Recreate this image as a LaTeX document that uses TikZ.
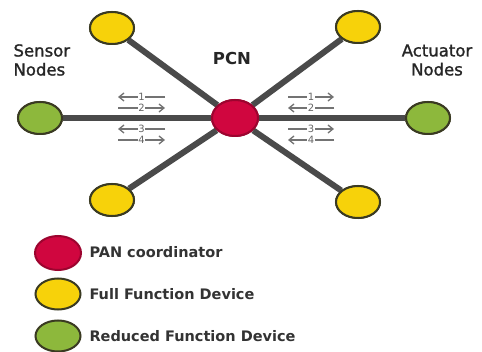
\documentclass[tikz,border=0pt]{standalone}
\usepackage{fontspec}
\setmainfont{DejaVu Sans}
\newfontfamily\semib[FakeBold=1.3]{DejaVu Sans}
\usetikzlibrary{arrows.meta,shapes.geometric}
\definecolor{linegray}{HTML}{4A4A4A}
\definecolor{edgecol}{HTML}{3A3A22}
\definecolor{ffdyellow}{HTML}{F7D20A}
\definecolor{rfdgreen}{HTML}{8DB83C}
\definecolor{panred}{HTML}{D0063F}
\begin{document}
\begin{tikzpicture}[x=1pt,y=-1pt,
  dev/.style={ellipse, draw=edgecol, line width=2pt, minimum width=44pt, minimum height=32pt, inner sep=0pt},
  ffd/.style={dev, fill=ffdyellow},
  rfd/.style={dev, fill=rfdgreen},
  pan/.style={dev, fill=panred, draw=panred!75!black, minimum width=46pt, minimum height=36pt},
  link/.style={draw=linegray, line width=6pt},
  lbl/.style={font=\semib\fontsize{16.5}{19}\selectfont, text=black!85},
  title/.style={font=\bfseries\fontsize{16.5}{19}\selectfont, text=black!85},
  legtext/.style={font=\bfseries\fontsize{14.5}{17}\selectfont, text=black!80, anchor=west},
  msg/.style={draw=black!55, line width=1.2pt, -{Straight Barb[length=5pt,width=8pt,line width=1.3pt]}},
  num/.style={font=\fontsize{10}{10}\selectfont, text=black!60, fill=white, inner sep=0.4pt}
]
\useasboundingbox[fill=white] (0,0) rectangle (482,352);

% center
\node[pan] (c) at (235,118) {};
% outer nodes
\node[ffd] (tl) at (112,28) {};
\node[ffd] (tr) at (358,27) {};
\node[ffd] (bl) at (112,200) {};
\node[ffd] (br) at (358,202) {};
\node[rfd] (l) at (40,118) {};
\node[rfd] (r) at (428,118) {};

% links
\path[link] (tl) -- (c);
\path[link] (tr) -- (c);
\path[link] (bl) -- (c);
\path[link] (br) -- (c);
\path[link] (l) -- (c);
\path[link] (r) -- (c);
% redraw nodes on top
\node[ffd] at (tl) {};
\node[ffd] at (tr) {};
\node[ffd] at (bl) {};
\node[ffd] at (br) {};
\node[rfd] at (l) {};
\node[rfd] at (r) {};
\node[pan] at (c) {};

% labels
\node[lbl, align=left, anchor=west] (sensor) at (10,60) {Sensor\\Nodes};
\node[lbl, align=center] (actuator) at (437,60) {Actuator\\Nodes};
\node[title] (pcn) at (232,58) {PCN};

% message arrows, left
\coordinate (la1) at (118,97);  \coordinate (lb1) at (165,97);
\coordinate (la2) at (118,108); \coordinate (lb2) at (165,108);
\coordinate (la3) at (118,129); \coordinate (lb3) at (165,129);
\coordinate (la4) at (118,140); \coordinate (lb4) at (165,140);
\draw[msg] (lb1) -- node[num] (n1l) {1} (la1);
\draw[msg] (la2) -- node[num] (n2l) {2} (lb2);
\draw[msg] (lb3) -- node[num] (n3l) {3} (la3);
\draw[msg] (la4) -- node[num] (n4l) {4} (lb4);
% message arrows, right
\coordinate (ra1) at (288,97);  \coordinate (rb1) at (334,97);
\coordinate (ra2) at (288,108); \coordinate (rb2) at (334,108);
\coordinate (ra3) at (288,129); \coordinate (rb3) at (334,129);
\coordinate (ra4) at (288,140); \coordinate (rb4) at (334,140);
\draw[msg] (ra1) -- node[num] (n1r) {1} (rb1);
\draw[msg] (rb2) -- node[num] (n2r) {2} (ra2);
\draw[msg] (ra3) -- node[num] (n3r) {3} (rb3);
\draw[msg] (rb4) -- node[num] (n4r) {4} (ra4);

% legend
\node[pan, minimum width=46pt, minimum height=34pt] (kpan) at (58,253) {};
\node[ffd, minimum width=45pt, minimum height=31pt] (kffd) at (58,294) {};
\node[rfd, minimum width=45pt, minimum height=31pt] (krfd) at (58,336) {};
\node[legtext] (tpan) at (86,252) {PAN coordinator};
\node[legtext] (tffd) at (86,294) {Full Function Device};
\node[legtext] (trfd) at (86,336) {Reduced Function Device};
\end{tikzpicture}
\end{document}
